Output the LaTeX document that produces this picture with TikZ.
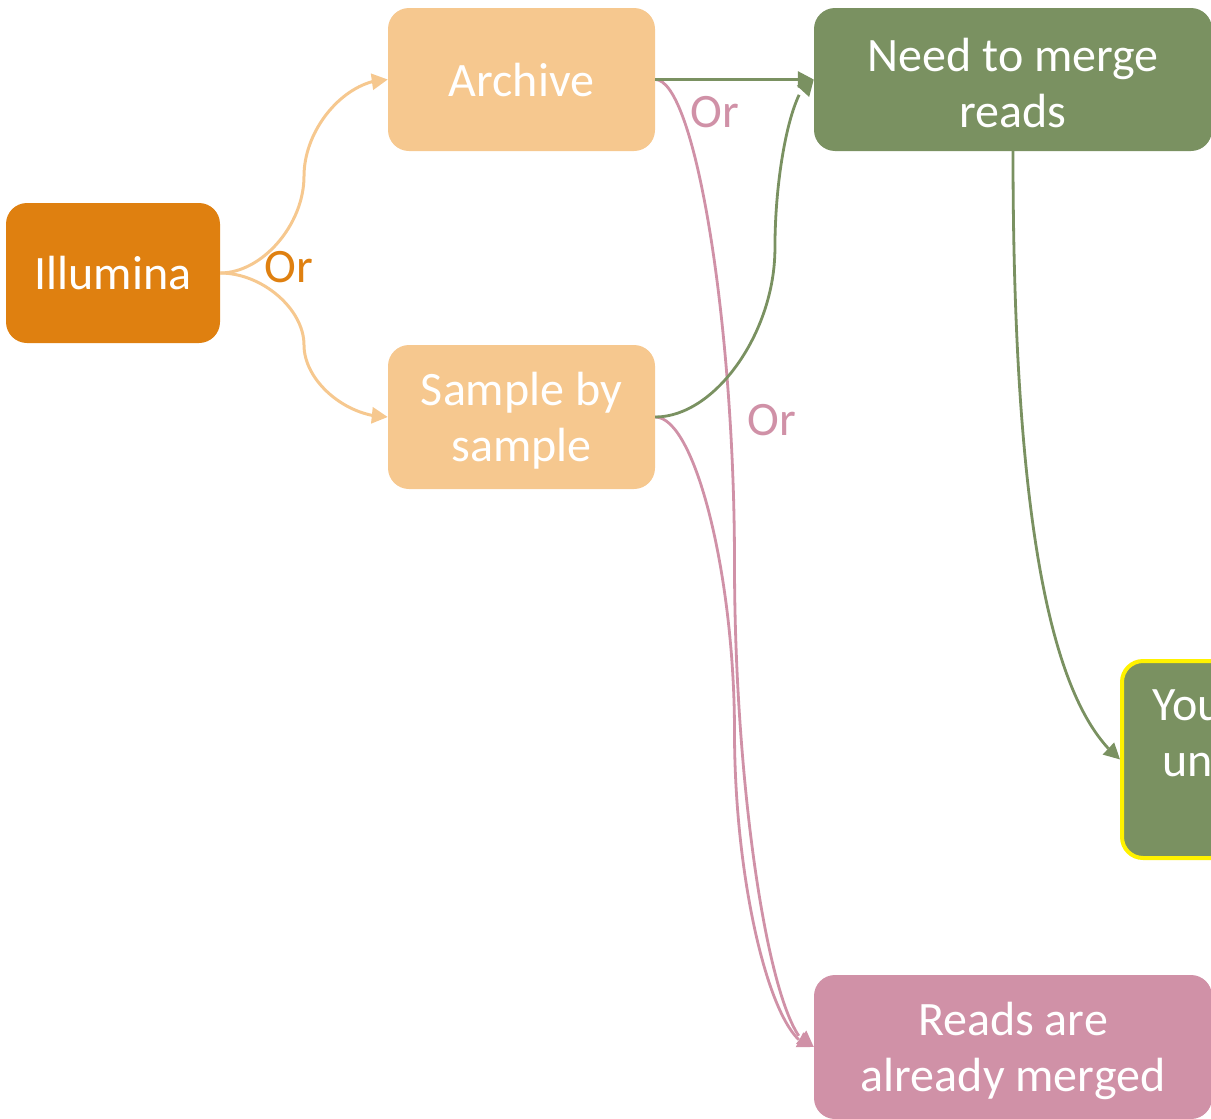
\documentclass[tikz,border=0pt]{standalone}
\usepackage{fontspec}
\setmainfont{Carlito}
\usetikzlibrary{arrows.meta,bending,calc}
\definecolor{cOrange}{HTML}{DF8010}
\definecolor{cLight}{HTML}{F6C88F}
\definecolor{cGreen}{HTML}{7A9161}
\definecolor{cPink}{HTML}{D091A7}
\newcommand{\tallfirst}[1]{\raisebox{0pt}[\dimexpr\height+8pt\relax]{#1}}
\begin{document}
\begin{tikzpicture}[x=1pt,y=-1pt,
  box/.style={rounded corners=21pt, inner sep=0pt, text=white, align=center,
    font=\fontsize{48}{56}\selectfont},
  conn/.style={line width=2.8pt, -{Triangle[length=16pt,width=16pt,flex]}},
  ppt/.style={to path={let \p1=(\tikztostart), \p2=(\tikztotarget),
     \p3=({\x1+#1*(\x2-\x1)},{(\y1+\y2)/2}) in
     .. controls ({(\x1+\x3)/2},\y1) and (\x3,{(3*\y1+\y2)/4}) .. (\p3)
     .. controls (\x3,{(\y1+3*\y2)/4}) and ({(\x3+\x2)/2},\y2) .. (\p2)}},
  ppt/.default=0.5,
  orlabel/.style={inner sep=0pt, font=\fontsize{48}{56}\selectfont}]
\useasboundingbox (0,0) rectangle (1211,1119);
\clip (0,0) rectangle (1211,1119);

% nodes
\node[box, fill=cOrange, minimum width=214pt, minimum height=140pt] (ill) at (113,273) {Illumina};
\node[box, fill=cLight, minimum width=267pt, minimum height=143pt] (arch) at (521.5,79.5) {Archive};
\node[box, fill=cLight, minimum width=267pt, minimum height=144pt] (samp) at (521.5,417) {\tallfirst{Sample by}\\sample};
\node[box, fill=cGreen, minimum width=398pt, minimum height=143pt] (need) at (1013,79.5) {\tallfirst{Need to merge}\\reads};
\node[box, fill=cPink, minimum width=398pt, minimum height=144pt] (reads) at (1013,1047) {\tallfirst{Reads are}\\already merged};
\node[box, fill=cGreen, draw=yellow, line width=4pt, minimum width=398pt, minimum height=197pt] (you) at (1321,759.5) {};
\node[anchor=base west, inner sep=0pt, text=white, font=\fontsize{48}{56}\selectfont] (youtxt) at (1152,720) {You};
\node[anchor=base west, inner sep=0pt, text=white, font=\fontsize{48}{56}\selectfont] (untxt) at (1162,776) {un};

% connectors
\draw[conn, cLight, line width=3pt] (ill.east) to[ppt] (arch.west);
\draw[conn, cLight, line width=3pt] (ill.east) to[ppt] (samp.west);
\draw[conn, cPink] (arch.east) to[ppt] (reads.west);
\draw[conn, cPink] (samp.east) to[ppt] (reads.west);
\draw[conn, cGreen] (arch.east) -- (need.west);
\draw[conn, cGreen] (samp.east) to[ppt=0.755] (need.west);
\draw[conn, cGreen] (need.south) .. controls ($(need.south)+(0,409)$) and ($(you.west)+(-60,-49)$) .. (you.west);

% labels
\node[orlabel, text=cOrange] (or1) at (289,267) {Or};
\node[orlabel, text=cPink] (or2) at (715,112) {Or};
\node[orlabel, text=cPink] (or3) at (772,420) {Or};
\end{tikzpicture}
\end{document}
